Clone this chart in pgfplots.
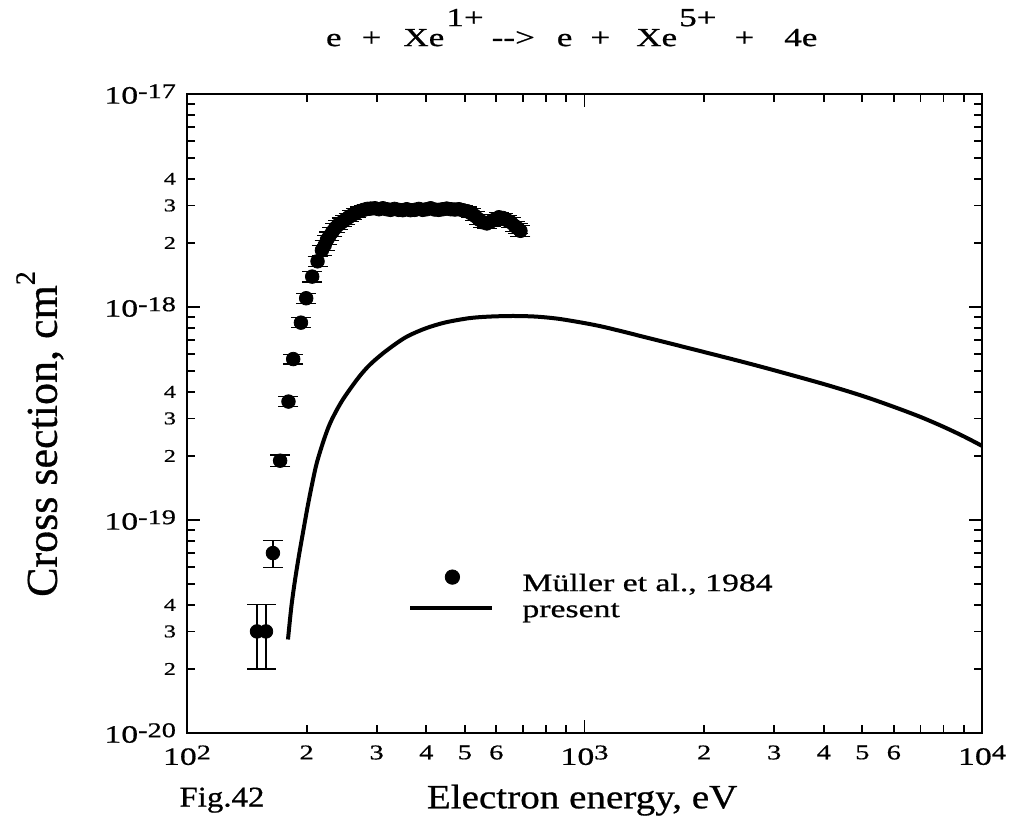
\documentclass[border=0pt]{standalone}
\usepackage{fontspec}
\setmainfont{Liberation Serif}
\newfontfamily\wide[FakeStretch=1.35,FakeBold=0.7]{Liberation Serif}
\newfontfamily\wideb[FakeStretch=1.15,FakeBold=0.7]{Liberation Serif}
\newfontfamily\ylab[FakeBold=0.7]{Liberation Serif}
\usepackage{pgfplots}
\pgfplotsset{compat=1.18}
\usepackage{pgfplotstable}
\pgfplotsset{
  mylegline/.style={legend image code/.code={\draw[##1] (0pt,1.5pt) -- (41pt,1.5pt);}},
  mylegdot/.style={legend image code/.code={\fill[black] (21pt,4pt) circle (3.6pt);}},
}
\newcommand{\sps}[1]{\raisebox{0.22em}{\fontsize{10.5}{11}\selectfont #1}}

\pgfplotstableread{
E s e
150 3.0e-20 1.0e-20
158 3.0e-20 1.0e-20
164.5 7.0e-20 1.0e-20
171.5 1.9e-19 0.12e-19
180 3.6e-19 0.2e-19
185 5.7e-19 0.3e-19
193.5 8.45e-19 0.45e-19
199.5 1.10e-18 0.06e-18
206.5 1.39e-18 0.08e-18
213 1.64e-18 0.09e-18
218.5 1.85e-18 0.1e-18
222 1.95e-18 0.1e-18
225 2.07e-18 0.1e-18
228 2.15e-18 0.1e-18
232 2.25e-18 0.11e-18
236 2.35e-18 0.11e-18
240 2.43e-18 0.12e-18
245 2.50e-18 0.12e-18
250 2.57e-18 0.12e-18
255 2.64e-18 0.12e-18
260 2.70e-18 0.13e-18
266 2.76e-18 0.13e-18
272 2.82e-18 0.13e-18
278 2.86e-18 0.13e-18
284 2.89e-18 0.13e-18
290 2.90e-18 0.13e-18
297 2.91e-18 0.13e-18
304 2.88e-18 0.13e-18
311 2.91e-18 0.13e-18
318 2.88e-18 0.13e-18
325 2.86e-18 0.13e-18
333 2.89e-18 0.13e-18
341 2.86e-18 0.13e-18
349 2.85e-18 0.13e-18
357 2.88e-18 0.13e-18
365 2.85e-18 0.13e-18
374 2.86e-18 0.13e-18
383 2.89e-18 0.13e-18
392 2.86e-18 0.13e-18
401 2.88e-18 0.13e-18
410 2.91e-18 0.13e-18
420 2.87e-18 0.13e-18
430 2.86e-18 0.13e-18
440 2.88e-18 0.13e-18
450 2.90e-18 0.13e-18
461 2.88e-18 0.13e-18
472 2.87e-18 0.13e-18
483 2.88e-18 0.13e-18
494 2.85e-18 0.13e-18
506 2.82e-18 0.13e-18
518 2.76e-18 0.13e-18
530 2.68e-18 0.13e-18
542 2.58e-18 0.13e-18
555 2.50e-18 0.13e-18
568 2.47e-18 0.13e-18
581 2.52e-18 0.13e-18
595 2.58e-18 0.13e-18
609 2.64e-18 0.13e-18
623 2.62e-18 0.13e-18
638 2.56e-18 0.13e-18
653 2.50e-18 0.13e-18
668 2.40e-18 0.13e-18
680 2.34e-18 0.13e-18
690 2.28e-18 0.13e-18
}\muller

\pgfplotstableread{
E s
179.5 2.75e-20
183 3.9e-20
186.9 5.2e-20
191.5 6.9e-20
196.3 8.97e-20
201 1.15e-19
206 1.45e-19
212 1.85e-19
221.3 2.40e-19
230.1 2.90e-19
245.5 3.63e-19
269.2 4.63e-19
288.4 5.36e-19
316.2 6.21e-19
354.8 7.21e-19
398.1 7.94e-19
446.7 8.47e-19
512.9 8.87e-19
575.4 9.02e-19
660.7 9.08e-19
755 9.02e-19
860 8.81e-19
1000 8.41e-19
1110 8.09e-19
1250 7.67e-19
1434 7.19e-19
1700 6.64e-19
2000 6.15e-19
2500 5.53e-19
3000 5.05e-19
4000 4.35e-19
5000 3.83e-19
6000 3.40e-19
7000 3.05e-19
8000 2.74e-19
9000 2.47e-19
10000 2.23e-19
}\present

\begin{document}
\begin{tikzpicture}
\begin{axis}[
  width=397.5pt, height=319.5pt, scale only axis,
  xmode=log, ymode=log,
  xmin=100, xmax=10000, ymin=1e-20, ymax=1e-17,
  xtick={100,1000,10000},
  xticklabels={10\sps{2},10\sps{3},10\sps{4}},
  ytick={1e-20,1e-19,1e-18,1e-17},
  yticklabels={10\sps{-20},10\sps{-19},10\sps{-18},10\sps{-17}},
  minor xtick={200,300,400,500,600,700,800,900,2000,3000,4000,5000,6000,7000,8000,9000},
  minor ytick={2e-20,3e-20,4e-20,5e-20,6e-20,7e-20,8e-20,9e-20,2e-19,3e-19,4e-19,5e-19,6e-19,7e-19,8e-19,9e-19,2e-18,3e-18,4e-18,5e-18,6e-18,7e-18,8e-18,9e-18},
  extra x ticks={200,300,400,500,600,2000,3000,4000,5000,6000},
  extra x tick labels={2,3,4,5,6,2,3,4,5,6},
  extra y ticks={2e-20,3e-20,4e-20,2e-19,3e-19,4e-19,2e-18,3e-18,4e-18},
  extra y tick labels={2,3,4,2,3,4,2,3,4},
  extra x tick style={major tick length=0pt, tick label style={font=\wide\fontsize{10.5}{11}\selectfont}},
  extra y tick style={major tick length=0pt, tick label style={font=\wide\fontsize{9}{10}\selectfont}},
  major tick length=6.5pt, minor tick length=4pt,
  axis line style={line width=1.4pt},
  every tick/.style={line width=0.9pt, black},
  tick label style={font=\wide\fontsize{12.5}{13}\selectfont},
  xticklabel style={inner sep=0pt, yshift=-6pt},
  yticklabel style={xshift=-2pt},
  xlabel={Electron energy, eV},
  xlabel style={at={(axis description cs:0.497,-0.105)}, anchor=center, font=\wideb\fontsize{17}{19}\selectfont},
  ylabel={Cross section, cm\raisebox{11pt}{\fontsize{14}{14}\selectfont 2}},
  ylabel style={at={(axis description cs:-0.185,0.468)}, anchor=center, font=\ylab\fontsize{22}{24}\selectfont},
  title={e\hspace{10pt}+\hspace{11pt}Xe\hspace{1pt}\raisebox{10pt}{1+}\hspace{4pt}{-}{-}>\hspace{11pt}e\hspace{9pt}+\hspace{13pt}Xe\hspace{1pt}\raisebox{10pt}{5+}\hspace{9pt}+\hspace{15pt}4e},
  title style={at={(axis description cs:0.166,1.0563)}, anchor=base west, font=\wide\fontsize{13}{14}\selectfont},
  legend style={draw=none, fill=none, at={(axis description cs:0.278,0.2566)}, anchor=north west,
    font=\wide\fontsize{12.5}{13}\selectfont, inner sep=0pt, row sep=0pt, column sep=0pt,
    nodes={inner sep=0pt, text height=9.5pt, text depth=3.5pt}},
  legend cell align=left,
  clip=false,
]
\addplot[only marks, mark=*, mark size=3.4pt, black, mylegdot,
  error bars/.cd, y dir=both, y explicit,
  error bar style={line width=0.6pt, black},
  error mark options={rotate=90, mark size=5pt, line width=0.6pt, black}]
  table[x=E, y=s, y error=e] {\muller};
\addlegendentry{\hspace{14pt}Müller et al., 1984}
\addplot[black, line width=2pt, smooth, tension=0.5, mylegline]
  table[x=E, y=s] {\present};
\addlegendentry{\hspace{14pt}present}
\node[font=\wideb\fontsize{14.3}{16}\selectfont, anchor=center] at (axis description cs:0.044,-0.105) {Fig.42};
\end{axis}
\path (current axis.south west) ++(-93.5pt,-49.5pt) rectangle ++(505pt,416pt);
\end{tikzpicture}
\end{document}
